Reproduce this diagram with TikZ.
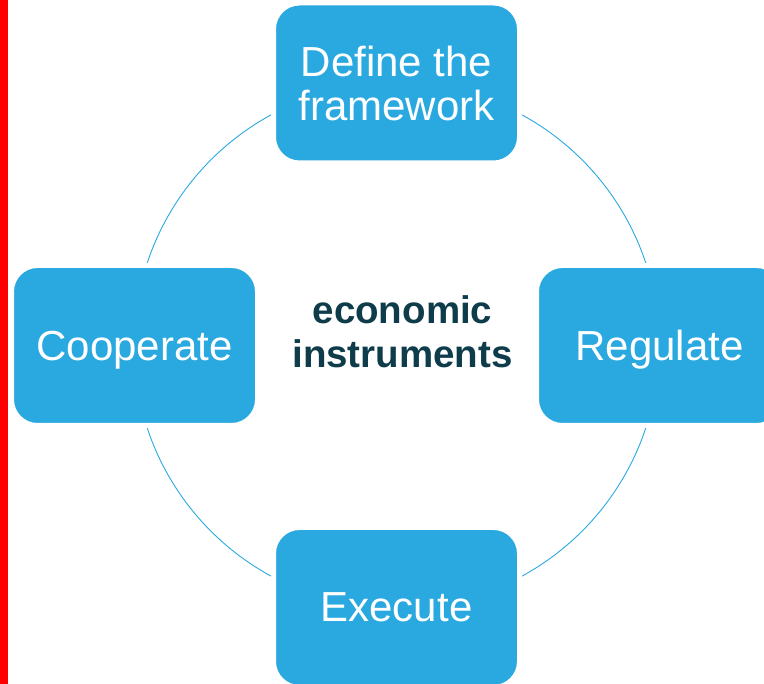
\documentclass[tikz,border=0pt]{standalone}
\usepackage{fontspec}
\setmainfont{Liberation Sans}
\definecolor{boxblue}{HTML}{29A9E0}
\definecolor{hubtext}{HTML}{0E3C4A}
\tikzset{
  stage/.style={draw=white, line width=5pt, fill=boxblue, rounded corners=26pt,
    minimum width=246pt, minimum height=160pt, text=white, align=center,
    text depth=0pt, font=\fontsize{42}{44}\selectfont},
  ring/.style={draw=boxblue, line width=0.9pt},
}
\begin{document}
\begin{tikzpicture}[x=1pt, y=-1pt]
\clip (0,0) rectangle (764,684);
\fill[red] (0,0) rectangle (8,684);
\coordinate (hub) at (396.5,345.5);
\draw[ring] (hub) circle[radius=262.5];
\node[stage] (define) at (396.5,83) {Define the\\framework};
\node[stage] (regulate) at (659.5,345.5) {Regulate};
\node[stage] (execute) at (396.5,607.5) {Execute};
\node[stage] (cooperate) at (134.5,345.5) {Cooperate};
\node[text=hubtext, align=center, font=\bfseries\fontsize{38.5}{44}\selectfont] (instr) at (402.5,332) {economic\\instruments};
\end{tikzpicture}
\end{document}
